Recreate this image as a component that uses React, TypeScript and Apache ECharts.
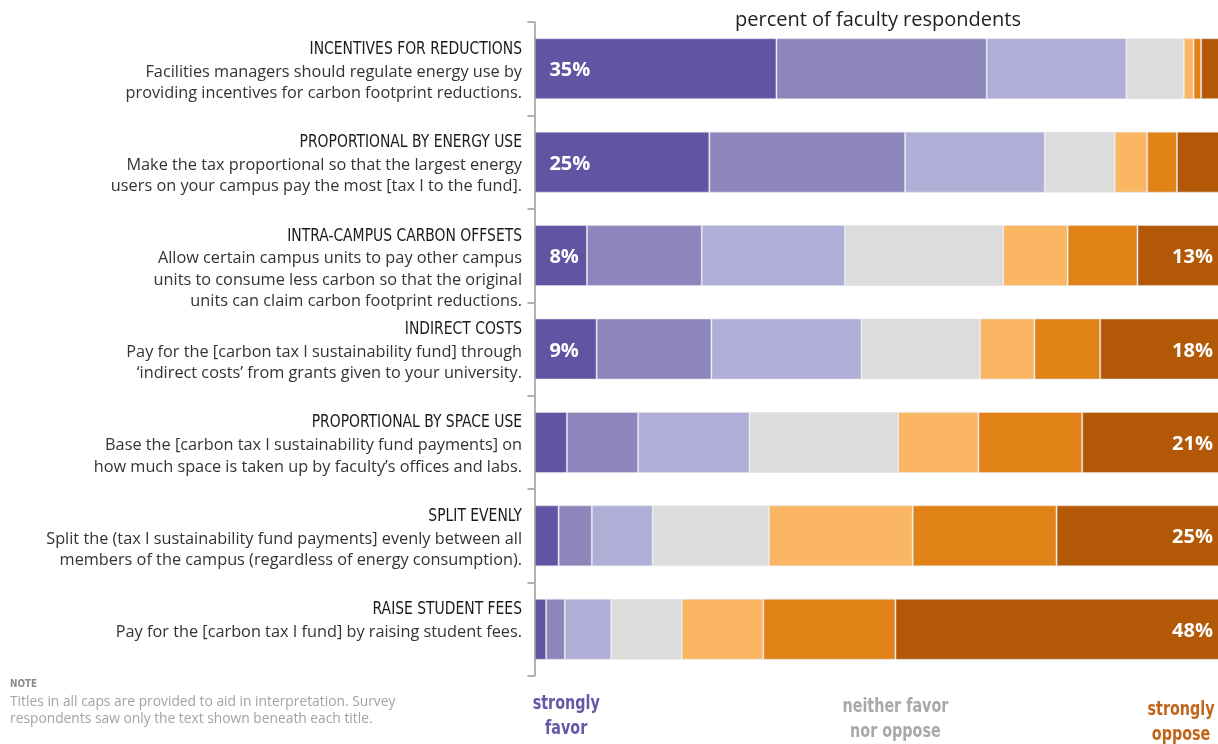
import React, { useEffect, useRef } from 'react';
import * as echarts from 'echarts';

const categories = [
  'INCENTIVES FOR REDUCTIONS',
  'PROPORTIONAL BY ENERGY USE',
  'INTRA-CAMPUS CARBON OFFSETS',
  'INDIRECT COSTS',
  'PROPORTIONAL BY SPACE USE',
  'SPLIT EVENLY',
  'RAISE STUDENT FEES',
];

const descriptions = [
  ['Facilities managers should regulate energy use by', 'providing incentives for carbon footprint reductions.'],
  ['Make the tax proportional so that the largest energy', 'users on your campus pay the most [tax I to the fund].'],
  ['Allow certain campus units to pay other campus', 'units to consume less carbon so that the original', 'units can claim carbon footprint reductions.'],
  ['Pay for the [carbon tax I sustainability fund] through', '\u2018indirect costs\u2019 from grants given to your university.'],
  ['Base the [carbon tax I sustainability fund payments] on', 'how much space is taken up by faculty\u2019s offices and labs.'],
  ['Split the (tax I sustainability fund payments] evenly between all', 'members of the campus (regardless of energy consumption).'],
  ['Pay for the [carbon tax I fund] by raising student fees.'],
];

const levelNames = ['strongly favor', 'favor', 'somewhat favor', 'neither favor nor oppose', 'somewhat oppose', 'oppose', 'strongly oppose'];
const stronglyFavor = [35.0, 25.3, 7.6, 9.0, 4.7, 3.5, 1.7];
const favor = [30.4, 28.3, 16.6, 16.6, 10.3, 4.8, 2.7];
const somewhatFavor = [20.2, 20.2, 20.7, 21.7, 16.1, 8.8, 6.7];
const neither = [8.3, 10.1, 22.9, 17.1, 21.5, 16.8, 10.2];
const somewhatOppose = [1.4, 4.7, 9.3, 7.9, 11.6, 20.8, 11.8];
const oppose = [1.1, 4.3, 10.1, 9.5, 15.0, 20.8, 19.1];
const stronglyOppose = [3.6, 7.1, 12.8, 18.2, 20.8, 24.5, 47.8];
const seriesValues = [stronglyFavor, favor, somewhatFavor, neither, somewhatOppose, oppose, stronglyOppose];
const colors = ['#6253a3', '#8c86bd', '#aeaed6', '#dcdcdc', '#fbb663', '#e08216', '#b35806'];

const axisTitle = 'percent of faculty respondents';
const scaleLabels = [
  { lines: ['strongly', 'favor'], color: '#6757a8', at: 4.6, y: 703 },
  { lines: ['neither favor', 'nor oppose'], color: '#a9a9a9', at: 52.2, y: 706 },
  { lines: ['strongly', 'oppose'], color: '#c0651a', at: 93.5, y: 709 },
];
const noteTitle = 'NOTE';
const noteLines = [
  'Titles in all caps are provided to aid in interpretation. Survey',
  'respondents saw only the text shown beneath each title.',
];

const CONDENSED = "'Liberation Sans Narrow', 'DejaVu Sans Condensed', 'Roboto Condensed', sans-serif";
const BODY = "'Open Sans', 'Noto Sans', sans-serif";

export default function App() {
  const ref = useRef<HTMLDivElement>(null);
  useEffect(() => {
    const chart = echarts.init(ref.current!, null, { renderer: 'svg' });
    const series = seriesValues.map((vals, si) => {
      const isFirst = si === 0;
      const isLast = si === seriesValues.length - 1;
      return {
        name: levelNames[si],
        type: 'bar',
        stack: 'total',
        barWidth: 61,
        clip: false,
        data: vals,
        itemStyle: { color: colors[si], borderColor: 'rgba(225,225,232,0.55)', borderWidth: 1 },
        label: {
          show: isFirst || isLast,
          position: isFirst ? 'insideLeft' : 'insideRight',
          distance: isFirst ? 15 : 13,
          color: '#ffffff',
          fontFamily: "'Open Sans', Roboto, sans-serif",
          fontWeight: 'bold',
          fontSize: 20,
          formatter: (p: any) => {
            const th = isFirst ? 7 : 10;
            return p.value >= th ? Math.round(p.value) + '%' : '';
          },
        },
      };
    });
    chart.setOption({
      animation: false,
      grid: { left: 534.4, top: 22, width: 691.6, height: 654, outerBoundsMode: 'none', containLabel: false },
      xAxis: { type: 'value', min: 0, max: 100, show: false },
      yAxis: {
        type: 'category',
        data: categories,
        inverse: true,
        axisLine: { show: true, lineStyle: { color: '#9a9a9a', width: 1.5 } },
        axisTick: { show: true, length: 7, lineStyle: { color: '#9a9a9a', width: 1.5 } },
        axisLabel: { show: false },
        z: 10,
      },
      series,
    });

    const graphics: any[] = [];
    categories.forEach((cat, i) => {
      const c = chart.convertToPixel({ yAxisIndex: 0 }, i) as number;
      graphics.push({
        type: 'text',
        x: 522,
        y: c - 21.5,
        scaleX: 0.86,
        style: { text: cat, fill: '#1a1a1a', font: `18px ${CONDENSED}`, textAlign: 'right', textVerticalAlign: 'middle' },
      });
      descriptions[i].forEach((line, k) => {
        graphics.push({
          type: 'text',
          x: 522,
          y: c + 1.8 + 21.5 * k,
          style: { text: line, fill: '#333333', font: `16.3px ${BODY}`, textAlign: 'right', textVerticalAlign: 'middle' },
        });
      });
    });
    graphics.push({
      type: 'text',
      x: 878,
      y: 18,
      style: { text: axisTitle, fill: '#222222', font: `20px 'Open Sans', sans-serif`, textAlign: 'center', textVerticalAlign: 'middle' },
    });
    scaleLabels.forEach((s) => {
      const x = chart.convertToPixel({ xAxisIndex: 0 }, s.at) as number;
      s.lines.forEach((line, k) => {
        graphics.push({
          type: 'text',
          x,
          y: s.y + 25 * k,
          scaleX: 0.84,
          style: { text: line, fill: s.color, font: `bold 19px ${CONDENSED}`, textAlign: 'center', textVerticalAlign: 'middle' },
        });
      });
    });
    graphics.push({
      type: 'text',
      x: 10,
      y: 683,
      scaleX: 0.9,
      style: { text: noteTitle, fill: '#8a8a8a', font: `bold 11px ${CONDENSED}`, textAlign: 'left', textVerticalAlign: 'middle' },
    });
    noteLines.forEach((line, k) => {
      graphics.push({
        type: 'text',
        x: 10,
        y: 700 + 17 * k,
        style: { text: line, fill: '#a3a3a3', font: `13.8px ${BODY}`, textAlign: 'left', textVerticalAlign: 'middle' },
      });
    });
    chart.setOption({ graphic: graphics });
    return () => chart.dispose();
  }, []);
  return <div ref={ref} style={{ position: 'fixed', left: 0, top: 0, width: 1218, height: 744 }} />;
}
